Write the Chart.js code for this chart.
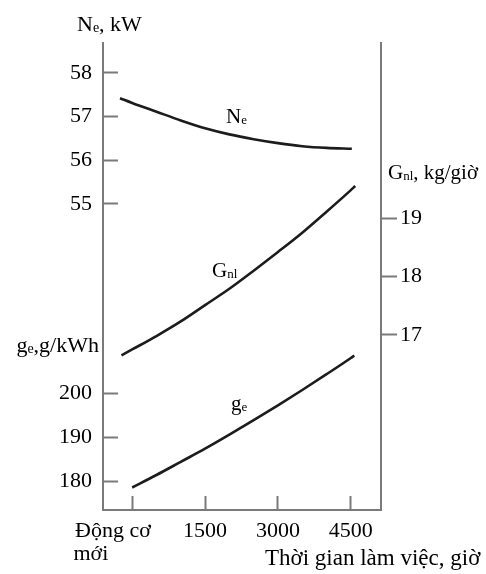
<!DOCTYPE html>
<html>
<head>
<meta charset="utf-8">
<script src="https://cdn.jsdelivr.net/npm/chart.js@4/dist/chart.umd.min.js"></script>
<style>
html,body{margin:0;padding:0;background:#fff;}
#wrap{width:486px;height:574px;position:relative;}
</style>
</head>
<body>
<div id="wrap"><canvas id="c"></canvas></div>
<script>
// ---- data ----
const neHours  = [-250, 0, 500, 1000, 1500, 2000, 2500, 3000, 3500, 4000, 4520];
const neValues = [57.42, 57.31, 57.11, 56.91, 56.73, 56.59, 56.48, 56.39, 56.32, 56.28, 56.26];

const gnlHours  = [-220, 0, 500, 1000, 1500, 2000, 2500, 3000, 3500, 4000, 4500, 4590];
const gnlValues = [16.65, 16.75, 16.98, 17.23, 17.51, 17.79, 18.10, 18.42, 18.75, 19.11, 19.48, 19.55];

const geHours  = [0, 500, 1000, 1500, 2000, 2500, 3000, 3500, 4000, 4500, 4570];
const geValues = [178.55, 181.4, 184.4, 187.4, 190.6, 193.9, 197.3, 200.8, 204.4, 208.1, 208.65];

const xTicks = [0, 1500, 3000, 4500];
const xTickLabels = [["Động cơ       ", "mới               "], "1500", "3000", "4500"];
const neTicks = [55, 56, 57, 58];
const geTicks = [180, 190, 200];
const gnlTicks = [17, 18, 19];

// ---- styling ----
const SERIF = '"Liberation Serif", "Times New Roman", serif';
const AXIS = '#7a7a7a';
const LINE = '#1c1c1c';

function pts(xs, ys) { return xs.map((x, i) => ({x: x, y: ys[i]})); }
function fixedTicks(list) { return function (s) { s.ticks = list.map(v => ({value: v})); }; }

const tickFont = {family: SERIF, size: 22, lineHeight: 1.05};

function drawRich(ctx, parts, x, y, align) {
  const widths = parts.map(p => { ctx.font = p[1] + 'px ' + SERIF; return ctx.measureText(p[0]).width; });
  const total = widths.reduce((a, b) => a + b, 0);
  let cx = align === 'right' ? x - total : x;
  ctx.textAlign = 'left';
  ctx.textBaseline = 'alphabetic';
  parts.forEach((p, i) => {
    ctx.font = p[1] + 'px ' + SERIF;
    ctx.fillText(p[0], cx, y + (p[2] || 0));
    cx += widths[i];
  });
}

const textPlugin = {
  id: 'texts',
  afterDraw(chart) {
    const ctx = chart.ctx;
    ctx.save();
    ctx.fillStyle = '#000';
    // axis titles
    drawRich(ctx, [['N', 22], ['e', 14, 1], [', kW', 22]], 77, 31);
    drawRich(ctx, [['g', 22], ['e', 14, 1], [',g/kWh', 22]], 99, 352, 'right');
    drawRich(ctx, [['G', 21], ['nl', 13, 1], [', kg/giờ', 21]], 388, 179);
    drawRich(ctx, [['Thời gian làm việc, giờ', 23]], 265, 565);
    // curve labels
    drawRich(ctx, [['N', 21], ['e', 13, 1]], 226, 123);
    drawRich(ctx, [['G', 21], ['nl', 13, 1]], 212, 277);
    drawRich(ctx, [['g', 21], ['e', 13, 1]], 231, 410);
    ctx.restore();
  }
};

function yAxisBase(pos) {
  return {
    type: 'linear',
    position: pos,
    border: {color: AXIS, width: 2},
    grid: {drawOnChartArea: false, color: AXIS, tickWidth: 2, tickLength: pos === 'left' ? -15 : 16},
    ticks: {font: tickFont, color: '#000', padding: pos === 'left' ? 26 : 3, autoSkip: false},
  };
}

new Chart(document.getElementById('c'), {
  type: 'line',
  data: {
    datasets: [
      {label: 'Ne', data: pts(neHours, neValues), yAxisID: 'yNe'},
      {label: 'Gnl', data: pts(gnlHours, gnlValues), yAxisID: 'yG'},
      {label: 'ge', data: pts(geHours, geValues), yAxisID: 'yGe'}
    ].map(d => Object.assign(d, {borderColor: LINE, borderWidth: 2.6, pointRadius: 0, cubicInterpolationMode: 'monotone', fill: false}))
  },
  options: {
    responsive: true,
    maintainAspectRatio: false,
    animation: false,
    layout: {padding: {top: 43, left: 0, right: 0, bottom: 0}},
    plugins: {legend: {display: false}, tooltip: {enabled: false}},
    scales: {
      x: {
        type: 'linear',
        position: 'bottom',
        min: -600, max: 5120,
        afterBuildTicks: fixedTicks(xTicks),
        afterFit(s) { s.height = 64; },
        border: {color: AXIS, width: 2},
        grid: {drawOnChartArea: false, color: AXIS, tickWidth: 2, tickLength: -14},
        ticks: {
          font: tickFont, color: '#000', padding: 24, maxRotation: 0, autoSkip: false,
          callback(v) { const i = xTicks.indexOf(v); return i >= 0 ? xTickLabels[i] : ''; }
        }
      },
      yNe: Object.assign(yAxisBase('left'), {
        stack: 'left', stackWeight: 1, weight: 2,
        min: 53.334, max: 58.684,
        afterBuildTicks: fixedTicks(neTicks),
        afterFit(s) { s.width = 103; }
      }),
      yGe: Object.assign(yAxisBase('left'), {
        stack: 'left', stackWeight: 1, weight: 1,
        min: 173.41, max: 226.70,
        afterBuildTicks: fixedTicks(geTicks),
        afterFit(s) { s.width = 103; }
      }),
      yG: Object.assign(yAxisBase('right'), {
        min: 14, max: 22,
        afterBuildTicks: fixedTicks(gnlTicks),
        afterFit(s) { s.width = 105; }
      })
    }
  },
  plugins: [textPlugin]
});
</script>
</body>
</html>
